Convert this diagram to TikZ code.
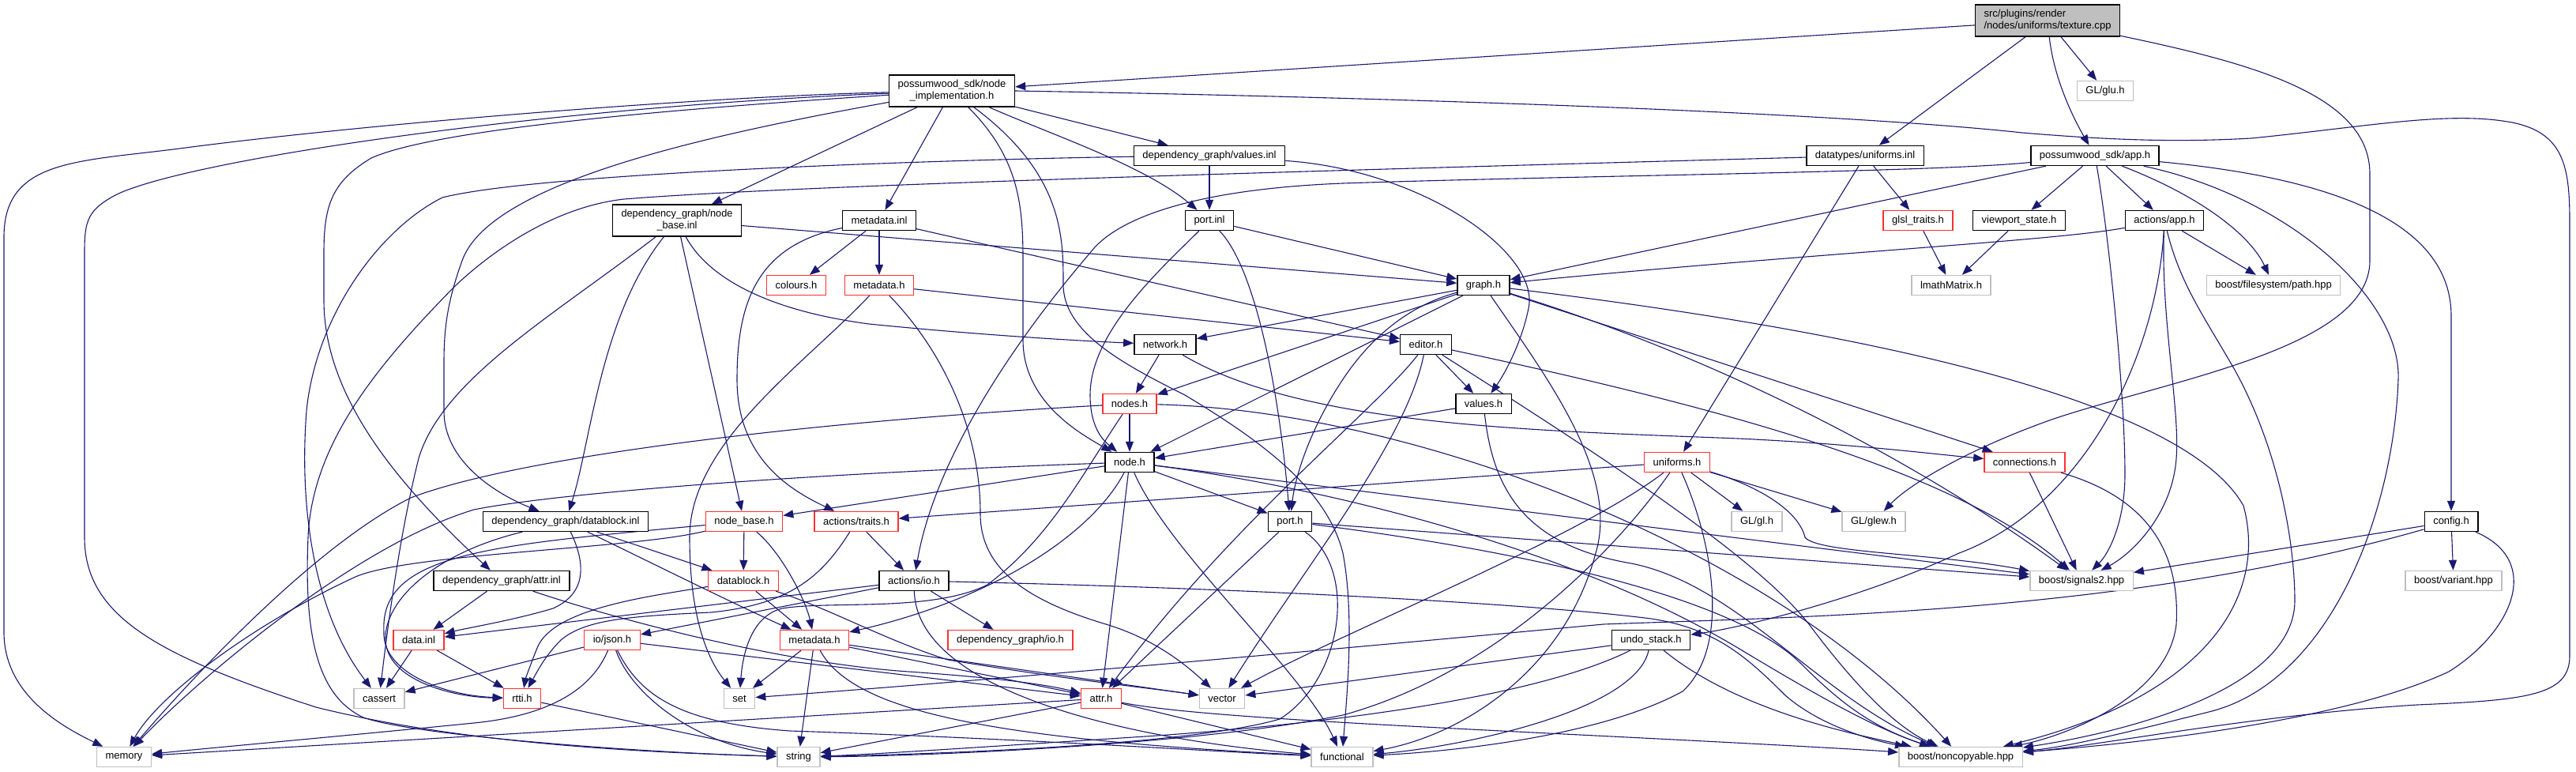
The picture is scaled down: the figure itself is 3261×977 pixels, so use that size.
\documentclass[tikz,border=0pt]{standalone}
\usepackage{fontspec}
\usepackage{graphicx}
\setmainfont{Liberation Sans}
\usetikzlibrary{arrows.meta}
\definecolor{edgeblue}{HTML}{191970}
\definecolor{boxred}{RGB}{255,48,48}
\definecolor{boxgray}{HTML}{BFBFBF}
\pgfdeclarelayer{edges}
\pgfsetlayers{edges,main}
\newcommand{\twoc}[3]{\resizebox{#1}{\height}{\begin{tabular}{@{}c@{}}#2\\#3\end{tabular}}}
\newcommand{\twol}[3]{\resizebox{#1}{\height}{\begin{tabular}{@{}l@{}}#2\\#3\end{tabular}}}
\tikzset{
  box/.style={draw, line width=0.7pt, fill=white, inner xsep=5.5pt, inner ysep=1pt,
    minimum height=12.5pt, font=\fontsize{6.5}{7.25}\selectfont, text=black},
  doc/.style={box, draw=black},
  trunc/.style={box, draw=boxred},
  ext/.style={box, draw=boxgray},
  root/.style={box, draw=black, fill=boxgray, minimum height=20pt},
  two/.style={minimum height=20pt},
  dep/.style={draw=edgeblue, line width=0.55pt, -{Triangle[length=6.5pt,width=5pt]}},
}
\begin{document}
\begin{tikzpicture}[x=0.5pt,y=-0.5pt]
\useasboundingbox (0,0) rectangle (3261,977);
% ---------------- nodes ----------------
\node[root] (T) at (2592,26) {\twol{80.5pt}{src/plugins/render}{/nodes/uniforms/texture.cpp}};
\node[ext] (glu) at (2665,115) {GL/glu.h};
\node[doc,two] (NI) at (1205,115) {\twoc{68.5pt}{possumwood\_sdk/node}{\_implementation.h}};
\node[doc] (vinl) at (1531,197) {dependency\_graph/values.inl};
\node[doc] (DU) at (2361,197) {datatypes/uniforms.inl};
\node[doc] (APP) at (2652,197) {possumwood\_sdk/app.h};
\node[doc,two] (nbinl) at (857,279) {\twoc{70.5pt}{dependency\_graph/node}{\_base.inl}};
\node[doc] (minl) at (1113,279) {metadata.inl};
\node[doc] (pinl) at (1531,279) {port.inl};
\node[trunc] (glsl) at (2428,279) {glsl\_traits.h};
\node[doc] (vps) at (2556,279) {viewport\_state.h};
\node[doc] (aapp) at (2740,279) {actions/app.h};
\node[trunc] (colours) at (1008,361) {colours.h};
\node[trunc] (mdhA) at (1113,361) {metadata.h};
\node[doc] (graph) at (1878,361) {graph.h};
\node[ext] (lmath) at (2470,361) {lmathMatrix.h};
\node[ext] (path) at (2878,361) {boost/filesystem/path.hpp};
\node[doc] (network) at (1475,436) {network.h};
\node[doc] (editor) at (1805,436) {editor.h};
\node[trunc] (nodes) at (1430,511) {nodes.h};
\node[doc] (values) at (1878,511) {values.h};
\node[doc] (node) at (1430,585) {node.h};
\node[trunc] (uniforms) at (2123,585) {uniforms.h};
\node[trunc] (conn) at (2563,585) {connections.h};
\node[doc] (dbinl) at (716,660) {dependency\_graph/datablock.inl};
\node[trunc] (nbh) at (942,660) {node\_base.h};
\node[trunc] (traits) at (1084,660) {actions/traits.h};
\node[doc] (port) at (1633,660) {port.h};
\node[ext] (gl) at (2224,660) {GL/gl.h};
\node[ext] (glew) at (2372,660) {GL/glew.h};
\node[doc] (config) at (3103,660) {config.h};
\node[doc] (ainl) at (635,735) {dependency\_graph/attr.inl};
\node[trunc] (dbh) at (941,735) {datablock.h};
\node[doc] (aio) at (1157,735) {actions/io.h};
\node[ext] (signals) at (2635,735) {boost/signals2.hpp};
\node[ext] (variant) at (3106,735) {boost/variant.hpp};
\node[trunc] (datainl) at (530,810) {data.inl};
\node[trunc] (json) at (775,810) {io/json.h};
\node[trunc] (mdhB) at (1031,810) {metadata.h};
\node[trunc] (dgio) at (1279,810) {dependency\_graph/io.h};
\node[doc] (undo) at (2090,810) {undo\_stack.h};
\node[ext] (cassert) at (480,884) {cassert};
\node[trunc] (rtti) at (661,884) {rtti.h};
\node[ext] (set) at (936,884) {set};
\node[trunc] (attr) at (1394,884) {attr.h};
\node[ext] (vector) at (1547,884) {vector};
\node[ext] (memory) at (157,958) {memory};
\node[ext] (string) at (1011,958) {string};
\node[ext] (functional) at (1699,958) {functional};
\node[ext] (noncopy) at (2482,958) {boost/noncopyable.hpp};
% ---------------- edges ----------------
\begin{pgfonlayer}{edges}
% texture.cpp
\draw[dep] (T) -- (NI);
\draw[dep] (T) -- (DU);
\draw[dep] (T) .. controls (2600,100) and (2625,150) .. (APP);
\draw[dep] (T) -- (glu);
\draw[dep] (T) .. controls (2850,80) and (3000,120) .. (3000,220) -- (3000,330) .. controls (3000,440) and (2750,480) .. (2600,530) .. controls (2500,565) and (2420,610) .. (glew);
% node_implementation.h
\draw[dep] (NI) -- (nbinl);
\draw[dep] (NI) -- (minl);
\draw[dep] (NI) -- (vinl);
\draw[dep] (NI) .. controls (1330,170) and (1450,210) .. (pinl);
\draw[dep] (NI) .. controls (1290,200) and (1295,260) .. (1295,330) -- (1295,430) .. controls (1295,510) and (1370,550) .. (node);
\draw[dep] (NI) .. controls (1346,220) and (1346,300) .. (1346,360) .. controls (1346,420) and (1420,460) .. (1500,500) .. controls (1600,560) and (1680,620) .. (1700,700) .. controls (1715,780) and (1705,880) .. (functional);
\draw[dep] (NI.east) .. controls (1700,122) and (2300,140) .. (2560,168) .. controls (2680,178) and (2760,180) .. (2850,175) .. controls (3000,160) and (3100,140) .. (3180,155) .. controls (3245,168) and (3253,210) .. (3253,280) -- (3253,830) .. controls (3253,880) and (3200,886) .. (3060,892) .. controls (2850,905) and (2650,945) .. (noncopy);
\draw[dep] (NI) .. controls (900,122) and (480,155) .. (235,187) .. controls (100,205) and (5,200) .. (5,300) -- (5,800) .. controls (5,880) and (80,920) .. (memory);
\draw[dep] (NI) .. controls (700,135) and (250,200) .. (150,245) .. controls (110,265) and (107,280) .. (107,320) -- (107,680) .. controls (107,780) and (200,830) .. (400,895) .. controls (600,945) and (850,953) .. (string);
\draw[dep] (NI) .. controls (900,135) and (560,160) .. (470,200) .. controls (420,230) and (410,260) .. (410,320) -- (410,380) .. controls (410,500) and (500,610) .. (ainl);
\draw[dep] (NI) .. controls (900,170) and (620,230) .. (585,330) .. controls (565,385) and (562,420) .. (562,460) -- (562,520) .. controls (562,590) and (640,630) .. (dbinl);
% values.inl
\draw[dep] (vinl) -- (pinl);
\draw[dep] (vinl) .. controls (1800,215) and (1950,320) .. (1935,390) .. controls (1925,440) and (1900,480) .. (values);
\draw[dep] (vinl) .. controls (1300,200) and (700,215) .. (560,250) .. controls (480,290) and (400,400) .. (388,520) .. controls (378,650) and (400,780) .. (cassert);
% datatypes/uniforms.inl
\draw[dep] (DU) -- (glsl);
\draw[dep] (DU) -- (uniforms);
\draw[dep] (DU) .. controls (1600,218) and (1000,235) .. (790,252) .. controls (700,262) and (620,320) .. (575,363) .. controls (480,460) and (395,560) .. (390,680) .. controls (385,800) and (400,880) .. (460,908) .. controls (520,930) and (800,952) .. (string);
% app.h
\draw[dep] (APP) -- (graph);
\draw[dep] (APP) .. controls (2450,218) and (2000,222) .. (1700,232) .. controls (1500,240) and (1410,280) .. (1380,320) .. controls (1260,460) and (1180,600) .. (aio);
\draw[dep] (APP) -- (vps);
\draw[dep] (APP) -- (aapp);
\draw[dep] (APP) .. controls (2670,300) and (2690,500) .. (2690,600) .. controls (2690,660) and (2670,700) .. (signals);
\draw[dep] (APP) .. controls (2790,250) and (2850,300) .. (path);
\draw[dep] (APP) .. controls (2900,250) and (3040,380) .. (3036,480) .. controls (3030,650) and (2950,860) .. (2800,900) .. controls (2700,925) and (2620,945) .. (noncopy);
\draw[dep] (APP) .. controls (2950,225) and (3103,280) .. (3103,400) -- (config);
% actions/app.h
\draw[dep] (aapp) .. controls (2600,305) and (2300,320) .. (graph);
\draw[dep] (aapp) -- (path);
\draw[dep] (aapp) .. controls (2730,450) and (2640,640) .. (2480,700) .. controls (2350,760) and (2200,795) .. (undo);
\draw[dep] (aapp) .. controls (2735,400) and (2760,520) .. (2755,580) .. controls (2750,650) and (2700,700) .. (signals);
\draw[dep] (aapp) .. controls (2760,360) and (2790,400) .. (2830,470) .. controls (2890,580) and (2905,700) .. (2905,760) .. controls (2905,870) and (2700,925) .. (noncopy);
% viewport / glsl
\draw[dep] (vps) -- (lmath);
\draw[dep] (glsl) -- (lmath);
% node_base.inl
\draw[dep] (nbinl) -- (graph);
\draw[dep] (nbinl) .. controls (760,400) and (748,560) .. (dbinl);
\draw[dep] (nbinl) -- (nbh);
\draw[dep] (nbinl) .. controls (890,340) and (950,390) .. (1100,410) .. controls (1250,425) and (1380,432) .. (network);
\draw[dep] (nbinl) .. controls (700,400) and (560,480) .. (530,580) .. controls (505,680) and (490,800) .. (cassert);
% metadata.inl
\draw[dep] (minl) -- (colours);
\draw[dep] (minl) -- (mdhA);
\draw[dep] (minl) .. controls (960,310) and (933,380) .. (933,480) .. controls (933,580) and (1000,620) .. (traits);
\draw[dep] (minl) -- (editor);
% metadata.h (sdk)
\draw[dep] (mdhA) -- (editor);
\draw[dep] (mdhA) .. controls (1020,460) and (873,560) .. (873,680) .. controls (873,790) and (900,840) .. (set);
\draw[dep] (mdhA) .. controls (1190,440) and (1241,540) .. (1241,650) .. controls (1241,720) and (1300,760) .. (1400,790) .. controls (1460,808) and (1500,840) .. (vector);
% port.inl
\draw[dep] (pinl) -- (graph);
\draw[dep] (pinl) .. controls (1470,340) and (1380,420) .. (1380,500) .. controls (1380,545) and (1400,560) .. (node);
\draw[dep] (pinl) .. controls (1590,340) and (1620,500) .. (port);
% graph.h
\draw[dep] (graph) -- (network);
\draw[dep] (graph) -- (nodes);
\draw[dep] (graph) -- (node);
\draw[dep] (graph) .. controls (1790,385) and (1740,420) .. (1700,480) .. controls (1660,540) and (1640,600) .. (port);
\draw[dep] (graph) .. controls (1960,480) and (2050,600) .. (2020,700) .. controls (1980,850) and (1850,930) .. (functional);
\draw[dep] (graph) .. controls (2200,400) and (2750,480) .. (2840,640) .. controls (2870,750) and (2800,880) .. (noncopy);
\draw[dep] (graph) -- (conn);
\draw[dep] (graph) .. controls (2200,460) and (2450,600) .. (signals);
% network.h
\draw[dep] (network) -- (nodes);
\draw[dep] (network) .. controls (1650,540) and (1950,545) .. (2200,555) .. controls (2350,562) and (2450,575) .. (conn);
% nodes.h
\draw[dep] (nodes) -- (node);
\draw[dep] (nodes) .. controls (1000,535) and (650,580) .. (520,630) .. controls (400,690) and (250,850) .. (memory);
\draw[dep] (nodes) .. controls (1370,600) and (1330,680) .. (1250,740) .. controls (1180,775) and (1050,760) .. (990,770) .. controls (950,780) and (940,830) .. (set);
\draw[dep] (nodes) .. controls (1800,520) and (2250,700) .. (noncopy);
% editor.h
\draw[dep] (editor) -- (values);
\draw[dep] (editor) .. controls (1740,520) and (1560,660) .. (attr);
\draw[dep] (editor) .. controls (1780,560) and (1650,720) .. (vector);
\draw[dep] (editor) .. controls (2000,560) and (2220,700) .. (2290,790) .. controls (2350,870) and (2400,920) .. (noncopy);
\draw[dep] (editor) .. controls (2200,520) and (2480,600) .. (signals);
% values.h
\draw[dep] (values) -- (node);
\draw[dep] (values) .. controls (1890,620) and (1930,690) .. (2065,713) .. controls (2200,740) and (2300,880) .. (noncopy);
% node.h
\draw[dep] (node) -- (nbh);
\draw[dep] (node) .. controls (1000,600) and (700,625) .. (600,645) .. controls (450,690) and (250,860) .. (memory);
\draw[dep] (node) -- (attr);
\draw[dep] (node) -- (port);
\draw[dep] (node) .. controls (1480,700) and (1650,850) .. (functional);
\draw[dep] (node) .. controls (1380,680) and (1250,760) .. (mdhB);
\draw[dep] (node) -- (signals);
\draw[dep] (node) .. controls (1700,620) and (2000,700) .. (2200,820) .. controls (2300,880) and (2370,920) .. (noncopy);
% uniforms.h
\draw[dep] (uniforms) -- (traits);
\draw[dep] (uniforms) -- (gl);
\draw[dep] (uniforms) -- (glew);
\draw[dep] (uniforms) .. controls (2170,690) and (2190,820) .. (2130,875) .. controls (2020,935) and (1820,952) .. (functional);
\draw[dep] (uniforms) .. controls (2000,680) and (1700,800) .. (vector);
\draw[dep] (uniforms) .. controls (2050,690) and (1900,850) .. (1700,905) .. controls (1500,945) and (1150,957) .. (string);
\draw[dep] (uniforms) .. controls (2210,610) and (2275,640) .. (2285,680) .. controls (2300,700) and (2450,700) .. (signals);
% connections.h
\draw[dep] (conn) -- (signals);
\draw[dep] (conn) .. controls (2720,630) and (2760,700) .. (2755,790) .. controls (2745,880) and (2620,930) .. (noncopy);
% datablock.inl
\draw[dep] (dbinl) -- (dbh);
\draw[dep] (dbinl) .. controls (740,710) and (745,750) .. (700,770) .. controls (650,785) and (590,795) .. (datainl);
\draw[dep] (dbinl) .. controls (800,700) and (920,760) .. (mdhB);
\draw[dep] (dbinl) .. controls (550,700) and (486,760) .. (488,810) .. controls (490,860) and (570,882) .. (rtti);
% node_base.h
\draw[dep] (nbh) -- (dbh);
\draw[dep] (nbh) .. controls (990,700) and (1020,760) .. (mdhB);
\draw[dep] (nbh) .. controls (800,695) and (520,700) .. (450,730) .. controls (320,790) and (200,880) .. (memory);
\draw[dep] (nbh) .. controls (620,690) and (480,700) .. (486,800) .. controls (484,850) and (560,880) .. (rtti);
% actions/traits.h
\draw[dep] (traits) -- (aio);
\draw[dep] (traits) .. controls (1040,730) and (1000,765) .. (900,775) .. controls (790,780) and (740,785) .. (710,810) .. controls (690,830) and (680,850) .. (rtti);
% port.h
\draw[dep] (port) -- (attr);
\draw[dep] (port) -- (signals);
\draw[dep] (port) .. controls (1950,700) and (2200,760) .. (2280,840) .. controls (2330,890) and (2370,920) .. (noncopy);
\draw[dep] (port) .. controls (1720,720) and (1700,860) .. (1620,910) .. controls (1500,945) and (1150,955) .. (string);
% config.h
\draw[dep] (config) -- (signals);
\draw[dep] (config) -- (variant);
\draw[dep] (config) .. controls (3220,710) and (3180,800) .. (3100,850) .. controls (2950,920) and (2650,945) .. (noncopy);
\draw[dep] (config) .. controls (2700,775) and (2300,780) .. (2030,790) .. controls (1600,830) and (1200,865) .. (set);
% attr.inl
\draw[dep] (ainl) -- (datainl);
\draw[dep] (ainl) .. controls (800,790) and (1000,840) .. (1150,850) .. controls (1250,857) and (1320,865) .. (attr);
% datablock.h
\draw[dep] (dbh) -- (mdhB);
\draw[dep] (dbh) .. controls (820,755) and (700,770) .. (680,820) .. controls (670,845) and (665,860) .. (rtti);
\draw[dep] (dbh) .. controls (1050,770) and (1120,810) .. (1200,835) .. controls (1350,860) and (1450,870) .. (vector);
% actions/io.h
\draw[dep] (aio) -- (json);
\draw[dep] (aio) -- (dgio);
\draw[dep] (aio) -- (datainl);
\draw[dep] (aio) .. controls (1160,840) and (1300,890) .. (1400,915) .. controls (1500,940) and (1600,950) .. (functional);
\draw[dep] (aio) .. controls (1600,745) and (1950,765) .. (2090,783) .. controls (2170,795) and (2210,830) .. (2260,880) .. controls (2300,915) and (2360,935) .. (noncopy);
% data.inl
\draw[dep] (datainl) -- (cassert);
\draw[dep] (datainl) -- (rtti);
% io/json.h
\draw[dep] (json) -- (cassert);
\draw[dep] (json) .. controls (750,870) and (700,905) .. (600,915) .. controls (450,930) and (250,948) .. (memory);
\draw[dep] (json) .. controls (800,880) and (880,940) .. (string);
\draw[dep] (json) .. controls (810,880) and (860,915) .. (1000,925) .. controls (1300,935) and (1550,952) .. (functional);
\draw[dep] (json) -- (attr);
% metadata.h (graph)
\draw[dep] (mdhB) -- (set);
\draw[dep] (mdhB) -- (string);
\draw[dep] (mdhB) .. controls (1080,900) and (1250,935) .. (functional);
\draw[dep] (mdhB) -- (vector);
\draw[dep] (mdhB) -- (attr);
% undo_stack.h
\draw[dep] (undo) -- (vector);
\draw[dep] (undo) .. controls (1950,880) and (1700,915) .. (1450,932) .. controls (1250,945) and (1100,955) .. (string);
\draw[dep] (undo) .. controls (2070,900) and (1850,945) .. (functional);
\draw[dep] (undo) .. controls (2200,900) and (2350,930) .. (noncopy);
% rtti.h, attr.h
\draw[dep] (rtti) -- (string);
\draw[dep] (attr) -- (string);
\draw[dep] (attr) -- (memory);
\draw[dep] (attr) -- (functional);
\draw[dep] (attr) .. controls (1500,905) and (1700,915) .. (2000,930) .. controls (2200,940) and (2350,948) .. (noncopy);
\end{pgfonlayer}
\end{tikzpicture}
\end{document}
